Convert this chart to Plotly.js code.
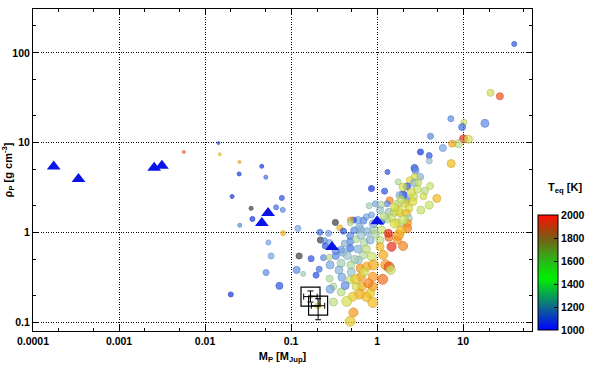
<!DOCTYPE html>
<html>
<head>
<meta charset="utf-8">
<script src="https://cdn.plot.ly/plotly-3.0.1.min.js"></script>
<style>html,body{margin:0;padding:0;background:#fff}#chart{width:600px;height:372px}</style>
</head>
<body>
<div id="chart"></div>
<script>
// Exoplanets: mass [M_Jup], density [g cm^-3], equilibrium temperature [K], marker size
const massP = [0.00565,0.0143,0.0148,0.0251,0.0456,0.0249,0.0508,0.0206,0.078,0.067,0.08,0.0355,0.0253,0.0807,0.0545,0.0585,0.0512,0.0731,0.0199,0.12,0.116,
39.2,20.8,26.7,7.19,10.2,9.73,17.9,4.17,10.1,11.5,8.83,7.45,5.8,3.19,4.03,4.03,7.25,2.72,2.79,1.32,3.16,2.74,2.4,1.75,2.72,4.13,2.23,0.859,1.22,2.94,2.0,1.82,2.21,2.65,3.45,4.94,1.4,0.955,1.31,1.11,1.74,2.13,2.34,3.22,0.807,1.08,1.37,1.58,1.84,2.19,2.31,2.25,2.23,1.77,1.47,1.3,0.693,0.596,0.53,0.49,0.487,0.751,0.859,0.368,0.406,0.54,0.646,0.771,0.915,1.13,0.216,0.272,0.244,0.25,0.28,0.486,0.486,0.57,0.486,0.706,0.829,1.08,1.37,1.47,2.0,1.72,1.08,0.171,0.238,0.279,0.331,0.284,0.381,0.495,0.607,0.693,0.868,0.634,0.759,0.906,1.18,1.26,1.38,1.44,1.16,0.891,0.891,0.891,0.829,0.664,0.623,0.522,0.57,0.486,0.444,0.53,0.486,0.381,0.31,0.389,0.425,0.31,0.284,0.28,0.212,0.195,0.138,0.646,0.79,4.03,1.77,2.02,1.35,1.77,1.13,0.168,0.206,
0.4,0.45,0.55,0.36,0.5,0.6,0.75,0.95,0.65,1.2,1.6,2.5,3.0,0.9,0.62,
2.0,2.6,1.9,3.6,1.6,1.9,0.42,0.38,0.33,0.7,0.56,0.75];
const rhoP = [7.87,9.9,7.41,6.09,5.45,4.48,4.12,2.51,2.42,1.90,1.78,1.41,1.20,0.98,0.77,0.545,0.356,0.253,0.203,1.107,0.381,
126,35.9,32.9,18.5,16.8,14.9,16.4,11.8,11.0,10.9,9.75,9.75,8.71,7.87,7.17,6.25,5.84,5.22,4.89,4.71,4.15,4.15,3.81,3.65,3.56,3.29,3.24,3.08,2.88,3.03,2.6,2.6,2.29,2.49,2.53,2.39,2.27,2.08,2.08,2.03,2.08,2.1,1.85,1.77,1.98,1.77,1.67,1.67,1.65,1.63,1.43,1.26,1.11,1.28,1.45,1.39,1.35,1.37,1.37,1.37,1.28,1.49,1.56,1.12,1.03,1.05,1.08,1.02,1.06,1.06,1.0,0.975,0.806,0.705,0.77,0.91,0.79,0.836,0.664,0.77,0.82,0.82,0.88,0.69,0.705,0.82,0.69,0.509,0.522,0.527,0.545,0.433,0.452,0.433,0.49,0.56,0.536,0.398,0.415,0.433,0.56,0.433,0.41,0.38,0.30,0.32,0.249,0.165,0.21,0.249,0.205,0.192,0.249,0.295,0.17,0.128,0.102,0.216,0.167,0.316,0.255,0.249,0.232,0.305,0.388,0.333,0.344,0.32,0.271,2.01,1.77,1.37,0.975,0.93,1.31,0.192,0.152,
0.6,0.55,0.5,0.38,0.36,0.65,0.65,0.95,0.93,1.5,1.9,2.8,3.6,1.25,1.15,
3.2,2.2,2.3,2.9,1.25,1.05,0.75,0.64,0.62,0.36,0.3,0.19];
const teqP = [1900,1050,1650,1750,1000,1000,1100,1000,1050,1100,1150,1000,1150,1700,1200,1200,1150,1050,1000,1200,1150,
1050,1550,1950,1150,1500,1100,1150,1150,2000,1550,1450,1750,1200,1000,1050,1300,1700,1050,1150,1050,1250,1550,1600,1400,1250,1500,1050,1000,1050,1500,1000,1250,1150,1500,1550,1700,1850,1200,1150,1400,1450,1600,1550,1500,1350,1300,1300,1500,1650,1700,1350,1800,1850,1450,1500,1400,1150,1200,1050,1800,1400,1200,1200,1700,1050,1150,1250,1250,1350,1500,1100,1200,1150,1050,1200,1150,1150,1400,1100,1400,1250,1450,1900,2000,1850,1800,1700,1050,1150,1450,1150,1200,1350,1400,1300,1400,1500,1800,1750,1750,1750,1800,1950,1500,1900,1800,1800,1700,1650,1750,1750,1650,1550,1500,1550,1800,1650,1450,1450,1200,1150,1400,1200,1400,1100,1050,1350,1800,1850,1500,1550,1500,2000,1800,1100,1450,1600,
1250,1300,1350,1250,1300,1250,1450,1400,1300,1450,1550,1550,1500,1250,1250,
1550,1600,1500,1450,1600,1700,1250,1200,1150,1550,1650,1700];
const sizeP = [3,3,3,3,4,4,4,4,5,5,5,5,4,5,5,6,6,7,5,6,7,
5,7,7,6,6,7,8,6,8,8,8,7,7,6,6,6,8,7,7,5,7,7,7,6,8,7,7,6,6,8,8,7,7,8,7,8,7,6,6,7,8,8,8,8,6,7,8,8,8,8,8,8,9,8,8,7,7,7,6,6,6,6,6,6,6,7,7,8,8,8,6,6,6,6,6,7,7,7,7,8,8,8,8,9,9,8,8,6,6,6,7,8,8,8,8,8,9,8,9,10,9,10,10,9,10,9,9,10,9,9,10,9,8,8,10,9,10,8,8,8,8,7,8,7,6,6,5,9,9,8,9,9,8,10,6,4,6,
8,8,8,8,8,8,8,8,8,8,8,8,7,8,7,
8,8,8,7,9,9,7,7,7,9,9,9];

// Planets without temperature (dark points)
const massK = [0.0343,0.124,0.327,0.219];
const rhoK = [1.85,0.545,1.29,0.82];
const sizeK = [4,6,6,6];

// Solar system planets
const ssNames = ['Mercury','Mars','Venus','Earth','Uranus','Neptune','Saturn','Jupiter'];
const ssMass = [0.000174,0.000338,0.00256,0.00315,0.0457,0.054,0.299,1.0];
const ssRho = [5.43,3.93,5.24,5.51,1.27,1.64,0.687,1.33];

// Highlighted planets (open squares with error bars)
const hlMass = [0.168,0.206];
const hlRho = [0.192,0.152];
const hlMassErrPlus = [0.033,0.04];
const hlMassErrMinus = [0.028,0.034];
const hlRhoErrPlus = [0.03,0.03];
const hlRhoErrMinus = [0.025,0.046];

const xTickVals = [0.0001,0.001,0.01,0.1,1,10];
const xTickText = ['0.0001','0.001','0.01','0.1','1','10'];
const yTickVals = [0.1,1,10,100];
const yTickText = ['0.1','1','10','100'];
const cbTickVals = [1000,1200,1400,1600,1800,2000];

const fillScale = [[0,'#1236e6'],[0.1,'#3f72ea'],[0.2,'#78a6e6'],[0.3,'#9cc4cc'],[0.4,'#b4daa0'],[0.5,'#cae46a'],[0.6,'#e2da34'],[0.7,'#f2bc1c'],[0.8,'#f89a18'],[0.9,'#f2701a'],[1,'#e8301a']];
const lineScale = [[0,'#0a22b8'],[0.1,'#2c56c4'],[0.2,'#5a88cc'],[0.3,'#7ca8b4'],[0.4,'#94c080'],[0.5,'#aec44e'],[0.6,'#c6bc20'],[0.7,'#d89e10'],[0.8,'#e07c10'],[0.9,'#d85210'],[1,'#d01808']];
const barScale = [[0,'#0000ff'],[0.2,'#0e6a8c'],[0.45,'#00f000'],[0.6,'#28b818'],[0.8,'#7a5c14'],[1,'#ff1000']];

const fontName = '"Liberation Sans", Arial, sans-serif';
const tickFont = {family: fontName, size:10.5, color:'#000', weight:'bold'};
const titleFont = {family: fontName, size:11, color:'#000', weight:'bold'};

const traces = [
  {
    type:'scatter', mode:'markers', x: massK, y: rhoK, hoverinfo:'skip',
    marker:{size: sizeK, color:'#404040', line:{color:'#202020', width:1}}
  },
  {
    type:'scatter', mode:'markers', x: massP, y: rhoP,
    marker:{
      size: sizeP, color: teqP, cmin:1000, cmax:2000, colorscale: fillScale, showscale:false,
      line:{color: teqP, cmin:1000, cmax:2000, colorscale: lineScale, width:1}
    }
  },
  {
    type:'scatter', mode:'markers', x: ssMass, y: ssRho, text: ssNames,
    marker:{symbol:'triangle-up', size:12, color:'#0a14e6', line:{color:'#0a14e6', width:0}}
  },
  {
    type:'scatter', mode:'markers', x: hlMass, y: hlRho,
    marker:{symbol:'square-open', size:19, color:'#000', line:{width:1.2, color:'#000'}},
    error_x:{type:'data', symmetric:false, array: hlMassErrPlus, arrayminus: hlMassErrMinus, color:'#000', thickness:1, width:3},
    error_y:{type:'data', symmetric:false, array: hlRhoErrPlus, arrayminus: hlRhoErrMinus, color:'#000', thickness:1, width:3}
  },
  {
    type:'scatter', mode:'markers', x:[null], y:[null], hoverinfo:'skip',
    marker:{
      color:[1500], cmin:1000, cmax:2000, colorscale: barScale, showscale:true, opacity:0,
      colorbar:{
        x:0.8986, xanchor:'left', xref:'paper', y:0.003, yanchor:'bottom', yref:'paper', len:0.356, lenmode:'fraction',
        thickness:20, outlinecolor:'#000', outlinewidth:1, xpad:0, ypad:0,
        tickvals: cbTickVals, ticks:'inside', ticklen:4, tickcolor:'#000',
        tickfont: tickFont,
        title:{text:'', side:'top'}
      }
    }
  }
];

const axisCommon = {
  type:'log', showline:true, linecolor:'#000', linewidth:1, mirror:'allticks',
  showgrid:true, gridcolor:'#000', griddash:'1px,1.5px', gridwidth:1,
  ticks:'inside', ticklen:6, tickcolor:'#000', zeroline:false,
  tickfont: tickFont,
  minor:{ticks:'inside', ticklen:3, tickcolor:'#000', dtick:'D2', showgrid:false}
};

const layout = {
  width:600, height:372,
  margin:{l:33, r:5, t:9, b:41},
  paper_bgcolor:'#fff', plot_bgcolor:'#fff',
  showlegend:false,
  xaxis: Object.assign({}, axisCommon, {
    domain:[0, 0.8879],
    range:[-4, 1.8], tickvals: xTickVals, ticktext: xTickText,
    title:{text:'M<sub>P</sub> [M<sub>Jup</sub>]', font: titleFont, standoff:6}
  }),
  yaxis: Object.assign({}, axisCommon, {
    range:[-1.1, 2.49], tickvals: yTickVals, ticktext: yTickText,
    title:{text:'ρ<sub>P</sub> [g cm<sup>-3</sup>]', font: titleFont, standoff:4}
  }),
  annotations:[{
    xref:'paper', yref:'paper', x:0.9128, y:0.444, xanchor:'left', yanchor:'middle', showarrow:false,
    text:'T<sub>eq</sub> [K]', font: titleFont
  }]
};

Plotly.newPlot('chart', traces, layout, {displayModeBar:false, staticPlot:true});
</script>
</body>
</html>
